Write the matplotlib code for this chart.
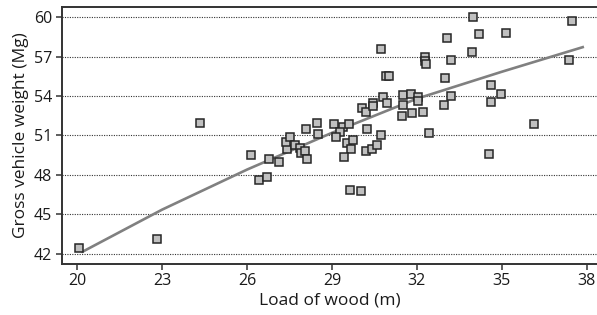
import numpy as np
import matplotlib
matplotlib.use("Agg")
import matplotlib.pyplot as plt

plt.rcParams['font.family'] = ['Open Sans', 'DejaVu Sans']

# --- data ---
load_wood = [20.07, 22.81, 24.34, 26.13, 26.42, 26.70, 26.79, 27.14, 27.40, 27.38,
             27.53, 27.70, 27.87, 27.90, 28.06, 28.12, 28.09, 28.47, 28.50, 29.08,
             29.38, 29.60, 29.28, 29.14, 29.52, 29.75, 29.66, 29.42, 30.19, 30.40,
             30.58, 30.25, 30.73, 30.07, 30.20, 30.44, 30.46, 30.81, 30.93, 31.50,
             31.79, 32.05, 32.03, 31.50, 31.46, 31.81, 32.22, 32.42, 29.64, 30.02,
             32.27, 32.30, 32.32, 33.08, 33.19, 33.00, 33.19, 32.95, 33.99, 34.19,
             33.95, 35.13, 34.62, 34.97, 34.62, 36.12, 37.46, 37.37, 34.54, 30.72,
             30.90, 31.00]
gross_weight = [42.46, 43.14, 51.93, 49.52, 47.60, 47.85, 49.19, 48.96, 49.95, 50.53,
                50.89, 50.28, 50.03, 49.69, 49.85, 49.21, 51.47, 51.93, 51.12, 51.88,
                51.67, 51.86, 51.29, 50.91, 50.41, 50.66, 49.95, 49.34, 49.84, 49.97,
                50.28, 51.50, 51.04, 53.07, 52.81, 53.45, 53.25, 53.91, 53.45, 54.09,
                54.14, 53.91, 53.63, 53.33, 52.49, 52.74, 52.77, 51.22, 46.85, 46.78,
                57.00, 56.68, 56.42, 58.45, 56.75, 55.36, 54.01, 53.30, 60.00, 58.71,
                57.34, 58.82, 54.85, 54.19, 53.55, 51.86, 59.70, 56.75, 49.57, 57.57,
                55.53, 55.53]

# fitted curve, read at a few x positions
fit_x = [20.15, 23, 26, 29, 32, 35, 37.9]
fit_y = [42.10, 45.35, 48.40, 51.20, 53.80, 55.85, 57.75]

x_ticks = [20, 23, 26, 29, 32, 35, 38]
y_ticks = [42, 45, 48, 51, 54, 57, 60]

fig = plt.figure(figsize=(5.97, 3.15), dpi=100)
ax = fig.add_axes([0.104, 0.163, 0.896, 0.814])

ax.plot(fit_x, fit_y, color='#808080', lw=1.9, zorder=2, solid_capstyle='butt')
ax.plot(load_wood, gross_weight, ls='none', marker='s', ms=5.6,
        mfc='#c0c0c0', mec='#262626', mew=1.1, zorder=3)

ax.set_xlim(19.47, 38.36)
ax.set_ylim(41.24, 60.76)
ax.set_xticks(x_ticks)
ax.set_yticks(y_ticks)
ax.yaxis.grid(True, color='#333333', ls=(0, (1, 1.2)), lw=0.8)
ax.set_axisbelow(True)

for s in ['left', 'bottom', 'top']:
    ax.spines[s].set_color('#333333')
    ax.spines[s].set_linewidth(1.4)
ax.spines['right'].set_visible(False)

ax.tick_params(axis='both', direction='out', length=4, width=1.1,
               color='#333333', labelsize=11.5, labelcolor='#1a1a1a', pad=3)

ax.set_xlabel('Load of wood (m)', fontsize=12.5, color='#1a1a1a', labelpad=2)
ax.set_ylabel('Gross vehicle weight (Mg)', fontsize=12.5, color='#1a1a1a', labelpad=4)

fig.savefig('out.png', dpi=100)
